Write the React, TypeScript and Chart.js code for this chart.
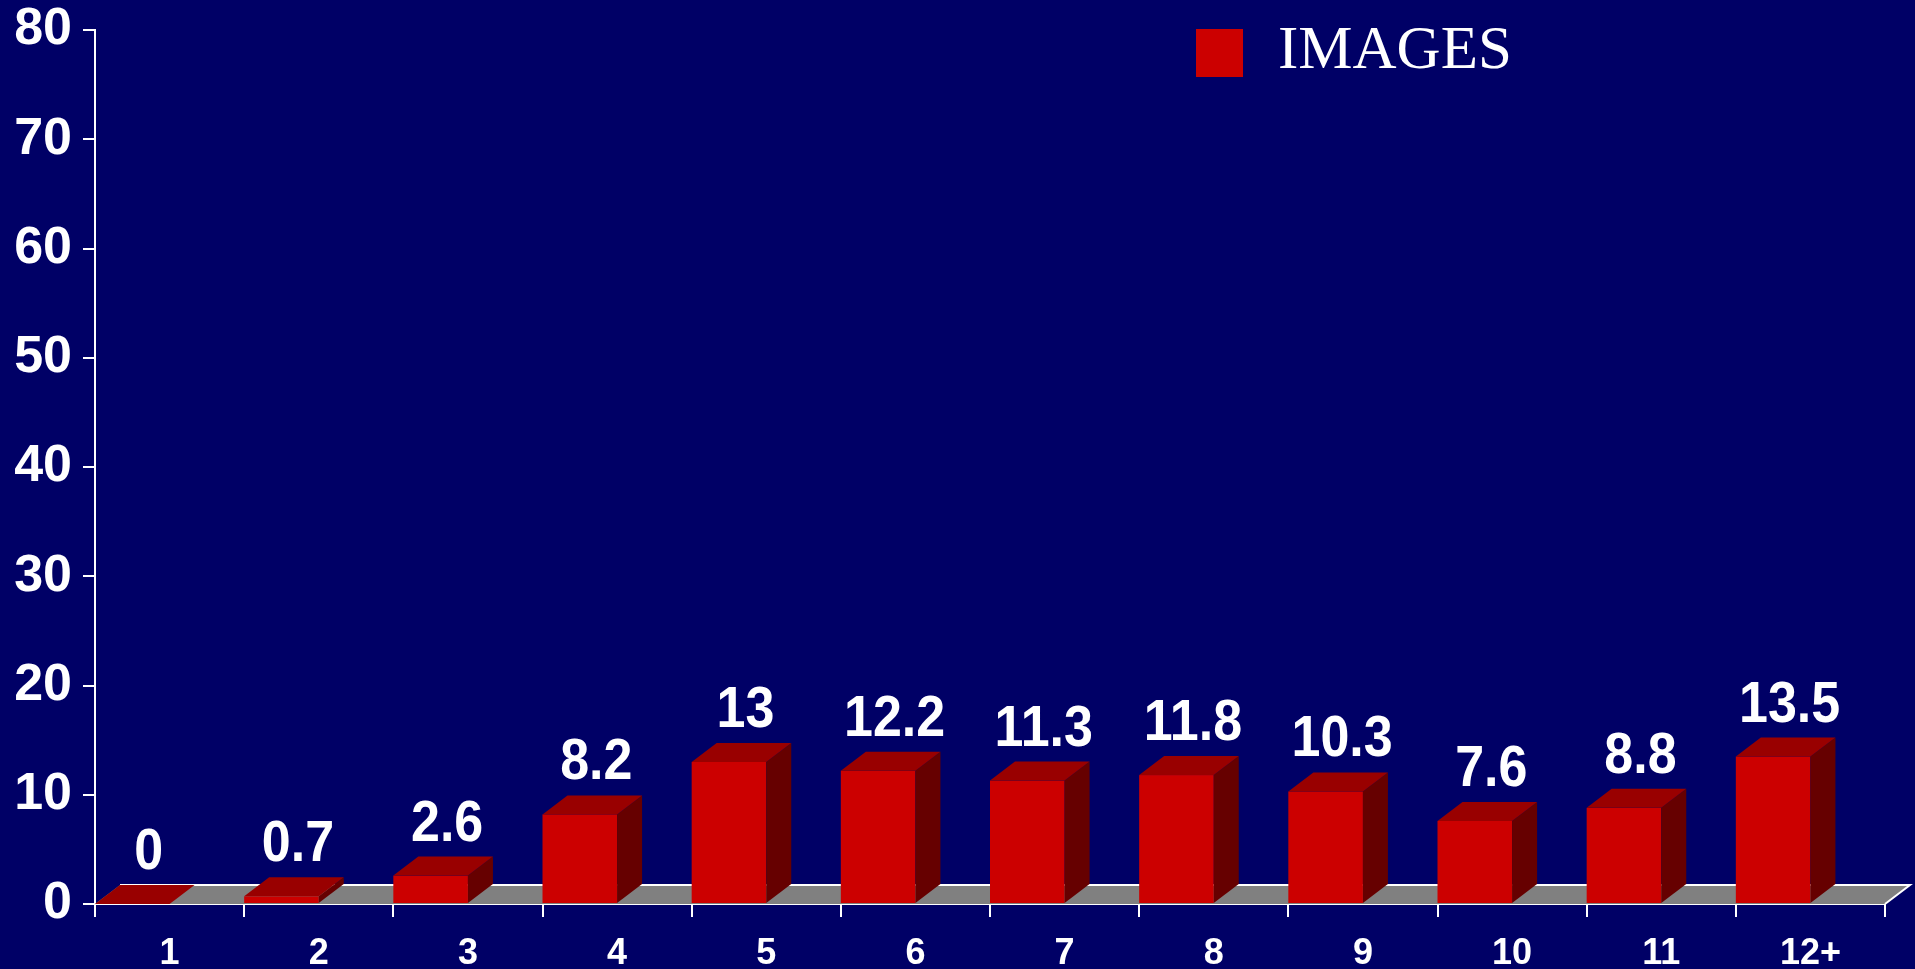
import React, { useEffect, useRef } from 'react';
import { Chart, registerables } from 'chart.js';

Chart.register(...registerables);

// ---- data ----
const categories = ['1', '2', '3', '4', '5', '6', '7', '8', '9', '10', '11', '12+'];
const imagesValues = [0, 0.7, 2.6, 8.2, 13, 12.2, 11.3, 11.8, 10.3, 7.6, 8.8, 13.5];
const seriesLabel = 'IMAGES';
const yTicks = [0, 10, 20, 30, 40, 50, 60, 70, 80];

// ---- styles ----
const BG = '#000066';
const FRONT = '#CC0000';
const TOP = '#990000';
const SIDE = '#660000';
const FLOOR = '#808080';
const DX = 25;
const DY = 19;
const SANS = '"Liberation Sans", Arial, sans-serif';
const SERIF = '"Liberation Serif", "Times New Roman", serif';

const bar3dPlugin = {
  id: 'bar3d',
  beforeDraw(chart: any) {
    const { ctx } = chart;
    ctx.save();
    ctx.fillStyle = BG;
    ctx.fillRect(0, 0, chart.width, chart.height);
    ctx.restore();
  },
  beforeDatasetsDraw(chart: any) {
    const { ctx, chartArea } = chart;
    const y0 = chart.scales.y.getPixelForValue(0);
    ctx.save();
    ctx.fillStyle = FLOOR;
    ctx.beginPath();
    ctx.moveTo(chartArea.left, y0);
    ctx.lineTo(chartArea.right, y0);
    ctx.lineTo(chartArea.right + DX, y0 - DY);
    ctx.lineTo(chartArea.left + DX, y0 - DY);
    ctx.closePath();
    ctx.fill();
    ctx.strokeStyle = '#ffffff';
    ctx.lineWidth = 2;
    ctx.beginPath();
    ctx.moveTo(chartArea.right, y0);
    ctx.lineTo(chartArea.right + DX, y0 - DY);
    ctx.lineTo(chartArea.left + DX, y0 - DY);
    ctx.stroke();
    ctx.restore();
  },
  afterDatasetsDraw(chart: any) {
    const { ctx } = chart;
    const meta = chart.getDatasetMeta(0);
    const values = chart.data.datasets[0].data as number[];
    ctx.save();
    meta.data.forEach((el: any, i: number) => {
      const { x, y, base, width } = el.getProps(['x', 'y', 'base', 'width'], true);
      // bar occupies the left half of its category
      const left = x - width;
      const right = x;
      // front
      ctx.fillStyle = FRONT;
      ctx.fillRect(left, y, right - left, base - y);
      // side
      ctx.fillStyle = SIDE;
      ctx.beginPath();
      ctx.moveTo(right, y);
      ctx.lineTo(right + DX, y - DY);
      ctx.lineTo(right + DX, base - DY);
      ctx.lineTo(right, base);
      ctx.closePath();
      ctx.fill();
      // top
      ctx.fillStyle = TOP;
      ctx.beginPath();
      ctx.moveTo(left, y);
      ctx.lineTo(right, y);
      ctx.lineTo(right + DX, y - DY);
      ctx.lineTo(left + DX, y - DY);
      ctx.closePath();
      ctx.fill();
      // value label
      const cx = (left + right) / 2 + DX / 2 + 4;
      const by = y - DY - 16;
      ctx.save();
      ctx.translate(cx, by);
      ctx.scale(1, 1.12);
      ctx.fillStyle = '#ffffff';
      ctx.font = `bold 52px ${SANS}`;
      ctx.textAlign = 'center';
      ctx.textBaseline = 'alphabetic';
      ctx.fillText(String(values[i]), 0, 0);
      ctx.restore();
    });
    ctx.restore();
  },
  afterDraw(chart: any) {
    const { ctx } = chart;
    ctx.save();
    ctx.fillStyle = FRONT;
    ctx.fillRect(1196, 29, 47, 48);
    ctx.fillStyle = '#ffffff';
    ctx.font = `61px ${SERIF}`;
    ctx.textAlign = 'left';
    ctx.textBaseline = 'alphabetic';
    ctx.fillText(chart.data.datasets[0].label, 1278, 68);
    ctx.restore();
  },
};

export default function App() {
  const ref = useRef<HTMLCanvasElement | null>(null);

  useEffect(() => {
    if (!ref.current) return;
    const chart = new Chart(ref.current, {
      type: 'bar',
      data: {
        labels: categories,
        datasets: [
          {
            label: seriesLabel,
            data: imagesValues,
            backgroundColor: 'rgba(0,0,0,0)',
            borderWidth: 0,
            barPercentage: 0.5,
            categoryPercentage: 1.0,
          },
        ],
      },
      options: {
        animation: false,
        responsive: false,
        devicePixelRatio: 1,
        layout: { padding: { top: 30, right: 30, left: 0, bottom: 0 } },
        plugins: {
          legend: { display: false },
          tooltip: { enabled: false },
        },
        scales: {
          x: {
            type: 'category',
            offset: true,
            z: 1,
            grid: {
              offset: true,
              drawOnChartArea: false,
              drawTicks: true,
              tickLength: 13,
              color: '#ffffff',
              lineWidth: 2,
            },
            border: { color: '#ffffff', width: 2 },
            ticks: {
              color: '#ffffff',
              font: { family: SANS, size: 36, weight: 'bold' },
              padding: 15,
              maxRotation: 0,
              autoSkip: false,
            },
            afterFit(scale: any) {
              scale.height = 65;
              scale.paddingLeft = 0;
              scale.paddingRight = 0;
            },
          },
          y: {
            type: 'linear',
            min: yTicks[0],
            max: yTicks[yTicks.length - 1],
            z: 1,
            grid: {
              drawOnChartArea: false,
              drawTicks: true,
              tickLength: 12,
              color: '#ffffff',
              lineWidth: 2,
            },
            border: { color: '#ffffff', width: 2 },
            ticks: {
              color: '#ffffff',
              font: { family: SANS, size: 52, weight: 'bold' },
              padding: 11,
            },
            afterBuildTicks(scale: any) {
              scale.ticks = yTicks.map((v) => ({ value: v }));
            },
            afterFit(scale: any) {
              scale.width = 95;
              scale.paddingTop = 0;
              scale.paddingBottom = 0;
            },
          },
        },
      },
      plugins: [bar3dPlugin],
    } as any);
    return () => chart.destroy();
  }, []);

  return (
    <div
      style={{
        position: 'absolute',
        left: 0,
        top: 0,
        width: 1915,
        height: 969,
        background: BG,
        overflow: 'hidden',
      }}
    >
      <canvas ref={ref} width={1915} height={969} style={{ display: 'block' }} />
    </div>
  );
}
